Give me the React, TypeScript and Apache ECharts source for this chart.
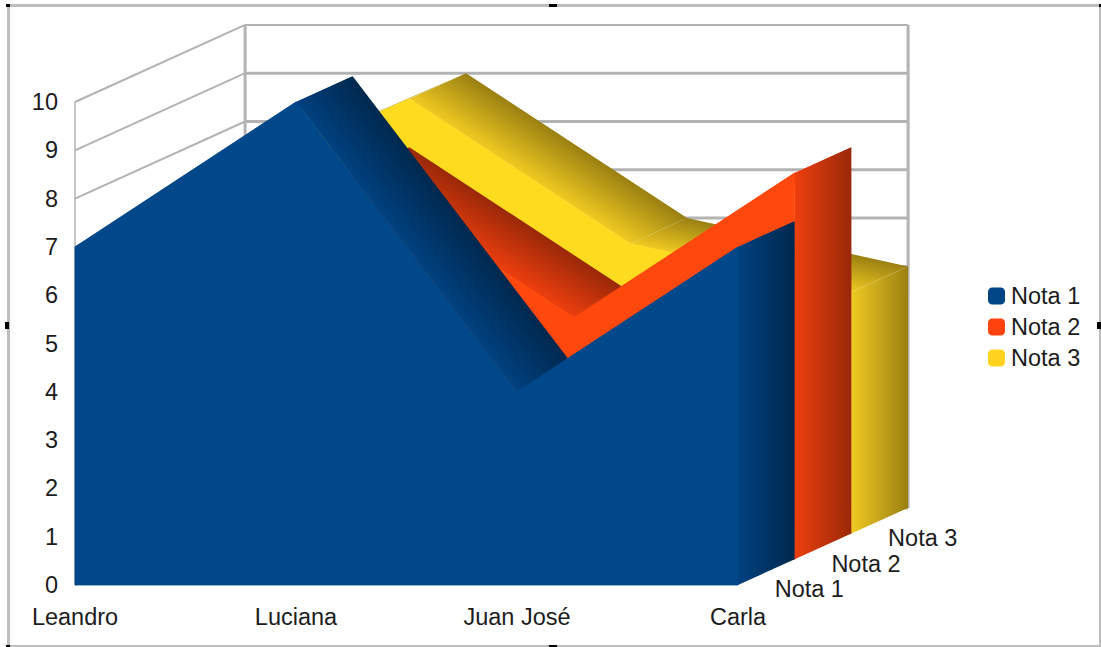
import React, { useEffect, useRef } from "react";
import * as echarts from "echarts";

const students = ["Leandro", "Luciana", "Juan José", "Carla"];
const nota1 = [7, 10, 4, 7];
const nota2 = [6, 8, 5, 8];
const nota3 = [7, 9, 6, 5];
const valueTicks = [0, 1, 2, 3, 4, 5, 6, 7, 8, 9, 10];

const FONT = "'Liberation Sans', Arial, sans-serif";
const FONT_SIZE = 23.5;
const TEXT = "#1c1c1c";
const WALL = "#b3b3b3";
const FRAME = "#bdbdbd";

// Screen offset of one series slot along the chart's depth axis.
const STEP_X = 56.7;
const STEP_Y = -25.7;
const SLOTS = 3;

type Pt = [number, number];
type Shades = { legend: string; front: string; light: string; dark: string };

const shift = (p: Pt, slot: number): Pt => [p[0] + STEP_X * slot, p[1] + STEP_Y * slot];

// Gradient running across a sloped face, from its front edge to its back edge.
function faceGradient(a: Pt, b: Pt, light: string, dark: string) {
  const ex = b[0] - a[0];
  const ey = b[1] - a[1];
  const nx = -ey;
  const ny = ex;
  const k = (STEP_X * nx + STEP_Y * ny) / (nx * nx + ny * ny);
  return new echarts.graphic.LinearGradient(
    a[0],
    a[1],
    a[0] + nx * k,
    a[1] + ny * k,
    [
      { offset: 0, color: light },
      { offset: 1, color: dark },
    ],
    true
  );
}

function ribbonSeries(name: string, values: number[], slot: number, shades: Shades) {
  return {
    type: "custom",
    name,
    itemStyle: { color: shades.legend },
    encode: { x: 0, y: 1 },
    data: values.map((v, i) => [i, v]),
    renderItem: (params: any, api: any) => {
      const i = params.dataIndex;
      const front = (k: number): Pt => shift(api.coord([k, values[k]]) as Pt, slot);
      const floor = (k: number): Pt => shift(api.coord([k, 0]) as Pt, slot);
      const children: any[] = [];
      const last = values.length - 1;

      if (i < last) {
        const a = front(i);
        const b = front(i + 1);
        children.push({
          type: "polygon",
          shape: { points: [a, b, shift(b, 1), shift(a, 1)] },
          style: { fill: faceGradient(a, b, shades.light, shades.dark) },
        });
      } else {
        const top = front(last);
        const bottom = floor(last);
        children.push({
          type: "polygon",
          shape: { points: [top, shift(top, 1), shift(bottom, 1), bottom] },
          style: {
            fill: new echarts.graphic.LinearGradient(
              top[0],
              0,
              top[0] + STEP_X,
              0,
              [
                { offset: 0, color: shades.light },
                { offset: 1, color: shades.dark },
              ],
              true
            ),
          },
        });
        const outline: Pt[] = [floor(0)];
        values.forEach((_, k) => outline.push(front(k)));
        outline.push(bottom);
        // The thin stroke closes the hairline between the front and the faces behind it.
        children.push({
          type: "polygon",
          shape: { points: outline },
          style: { fill: shades.front, stroke: shades.front, lineWidth: 0.8, lineJoin: "round" },
        });
        const corner = shift(bottom, 1);
        children.push({
          type: "text",
          style: {
            x: corner[0] - 20,
            y: corner[1] + 30,
            text: name,
            fill: TEXT,
            font: `${FONT_SIZE}px ${FONT}`,
            textAlign: "left",
            textVerticalAlign: "middle",
          },
        });
      }
      return { type: "group", children };
    },
  };
}

// Back wall and side wall of the box, one set of lines per value tick.
const wallSeries = {
  type: "custom",
  name: "walls",
  encode: { x: 0, y: 1 },
  data: valueTicks.map((t) => [0, t]),
  renderItem: (params: any, api: any) => {
    const t = valueTicks[params.dataIndex];
    const near = api.coord([0, t]) as Pt;
    const far = api.coord([students.length - 1, t]) as Pt;
    const corner = shift(near, SLOTS);
    const end = shift(far, SLOTS);
    const isTop = t === valueTicks[valueTicks.length - 1];
    const children: any[] = [
      {
        type: "line",
        shape: { x1: near[0], y1: near[1], x2: corner[0], y2: corner[1] },
        style: { stroke: WALL, lineWidth: 2 },
      },
      {
        type: "line",
        shape: { x1: corner[0], y1: corner[1], x2: end[0], y2: end[1] },
        style: { stroke: WALL, lineWidth: isTop ? 2 : 3 },
      },
    ];
    if (isTop) {
      const nearBase = api.coord([0, 0]) as Pt;
      const farBase = shift(api.coord([students.length - 1, 0]) as Pt, SLOTS);
      const cornerBase = shift(nearBase, SLOTS);
      children.push(
        {
          type: "line",
          shape: { x1: near[0], y1: near[1], x2: nearBase[0], y2: nearBase[1] },
          style: { stroke: WALL, lineWidth: 1.5 },
        },
        {
          type: "line",
          shape: { x1: corner[0], y1: corner[1], x2: cornerBase[0], y2: cornerBase[1] },
          style: { stroke: WALL, lineWidth: 3 },
        },
        {
          type: "line",
          shape: { x1: end[0], y1: end[1], x2: farBase[0], y2: farBase[1] },
          style: { stroke: WALL, lineWidth: 3 },
        }
      );
    }
    return { type: "group", children };
  },
};

// Selection frame around the embedded chart object.
const frameBars = [
  [6, 4, 1095, 3],
  [7, 4, 3, 643],
  [6, 645, 1095, 2],
  [1099, 4, 2, 643],
];
const frameHandles = [
  [6, 4, 4, 3],
  [549, 4, 8, 3],
  [5, 322, 4, 7],
  [1097, 322, 4, 7],
  [6, 645, 4, 2],
  [549, 645, 8, 2],
  [1099, 4, 2, 3],
];

const toRect = (r: number[], fill: string) => ({
  type: "rect",
  silent: true,
  shape: { x: r[0], y: r[1], width: r[2], height: r[3] },
  style: { fill },
});

export default function App() {
  const ref = useRef<HTMLDivElement>(null);

  useEffect(() => {
    document.body.style.margin = "0";
    const chart = echarts.init(ref.current!, null, { renderer: "svg" });
    chart.setOption({
      animation: false,
      backgroundColor: "#ffffff",
      grid: { left: 75, top: 102, width: 663, height: 483, containLabel: false },
      xAxis: {
        type: "category",
        data: students,
        boundaryGap: false,
        axisLine: { show: false },
        axisTick: { show: false },
        axisLabel: {
          color: TEXT,
          fontFamily: FONT,
          fontSize: FONT_SIZE,
          margin: 20,
          interval: 0,
          hideOverlap: false,
        },
      },
      yAxis: {
        type: "value",
        min: 0,
        max: 10,
        interval: 1,
        axisLine: { show: false },
        axisTick: { show: false },
        splitLine: { show: false },
        axisLabel: { color: TEXT, fontFamily: FONT, fontSize: FONT_SIZE, margin: 17 },
      },
      legend: {
        orient: "vertical",
        left: 988,
        top: 284,
        padding: 0,
        icon: "roundRect",
        itemWidth: 17,
        itemHeight: 17,
        itemGap: 7,
        selectedMode: false,
        data: ["Nota 1", "Nota 2", "Nota 3"],
        textStyle: { color: TEXT, fontFamily: FONT, fontSize: FONT_SIZE, padding: [0, 0, 0, 1] },
      },
      graphic: {
        elements: [
          ...frameBars.map((r) => toRect(r, FRAME)),
          ...frameHandles.map((r) => toRect(r, "#000000")),
        ],
      },
      series: [
        wallSeries,
        ribbonSeries("Nota 3", nota3, 2, {
          legend: "#ffd320",
          front: "#ffdb20",
          light: "#f0ca22",
          dark: "#9a8012",
        }),
        ribbonSeries("Nota 2", nota2, 1, {
          legend: "#ff420e",
          front: "#ff480e",
          light: "#ee3f0e",
          dark: "#992808",
        }),
        ribbonSeries("Nota 1", nota1, 0, {
          legend: "#004586",
          front: "#00488a",
          light: "#00417f",
          dark: "#00284e",
        }),
      ],
    });
    return () => chart.dispose();
  }, []);

  return <div ref={ref} style={{ width: 1101, height: 647 }} />;
}
